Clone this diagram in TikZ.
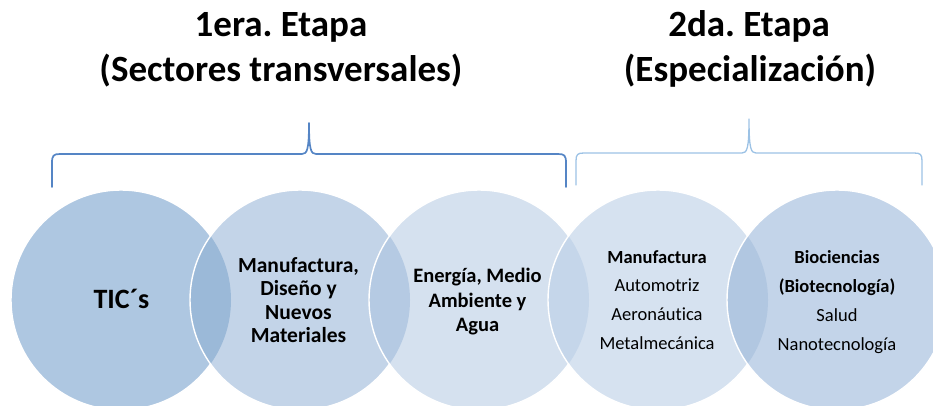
\documentclass[tikz,border=0pt]{standalone}
\usepackage{fontspec}
\setmainfont{Carlito}[Ligatures={NoCommon}]
\frenchspacing
\begin{document}
\begin{tikzpicture}[x=1pt,y=-1pt]
\definecolor{colA}{HTML}{AEC7E1}
\definecolor{colB}{HTML}{C3D4E8}
\definecolor{colC}{HTML}{D5E1EF}
\definecolor{colD}{HTML}{D6E2F0}
\definecolor{colE}{HTML}{C3D4E9}
\definecolor{ovAB}{HTML}{9BB9D8}
\definecolor{ovBC}{HTML}{B5CAE3}
\definecolor{ovCD}{HTML}{C5D6EA}
\definecolor{ovDE}{HTML}{B1C7E1}
\definecolor{braceA}{HTML}{5585C5}
\definecolor{braceB}{HTML}{9CC2E5}
\tikzset{
  ring/.style={draw=white,line width=1.4pt},
  title/.style={anchor=base,font=\fontsize{37}{45}\selectfont\bfseries,inner sep=0pt},
  bigtxt/.style={align=center,font=\fontsize{21.5}{23.3}\selectfont\bfseries,inner sep=0pt},
  midtxt/.style={align=center,font=\fontsize{20.5}{24.5}\selectfont\bfseries,inner sep=0pt},
  smalltxt/.style={align=center,font=\fontsize{18.5}{28.8}\selectfont,inner sep=0pt},
  bracestyle/.style={line width=1.7pt,line cap=round,line join=round},
}
\useasboundingbox (0,0) rectangle (933,406);
\clip (0,0) rectangle (933,406);
\def\R{110}
\coordinate (c1) at (121,300);
\coordinate (c2) at (300,300);
\coordinate (c3) at (479,300);
\coordinate (c4) at (658,300);
\coordinate (c5) at (837,300);
% circle 1
\fill[colA] (c1) circle (\R);
\draw[ring] (c1) circle (\R);
% circle 2
\fill[colB] (c2) circle (\R);
\begin{scope}\clip (c1) circle (\R); \fill[ovAB] (c2) circle (\R);\end{scope}
\draw[ring] (c2) circle (\R);
% circle 3
\fill[colC] (c3) circle (\R);
\begin{scope}\clip (c2) circle (\R); \fill[ovBC] (c3) circle (\R);\end{scope}
\draw[ring] (c3) circle (\R);
% circle 4
\fill[colD] (c4) circle (\R);
\begin{scope}\clip (c3) circle (\R); \fill[ovCD] (c4) circle (\R);\end{scope}
\draw[ring] (c4) circle (\R);
% circle 5
\fill[colE] (c5) circle (\R);
\begin{scope}\clip (c4) circle (\R); \fill[ovDE] (c5) circle (\R);\end{scope}
\draw[ring] (c5) circle (\R);
% braces
\draw[bracestyle,draw=braceA] (52,187) -- (52,163) .. controls (52,155.5) and (53.5,154) .. (60,154)
  -- (302,154) .. controls (307,154) and (309,150) .. (309,123)
  .. controls (309,150) and (311,154) .. (316,154) -- (558,154)
  .. controls (564.5,154) and (566,155.5) .. (566,163) -- (566,187);
\draw[bracestyle,line width=1.3pt,draw=braceB] (576,185) -- (576,161) .. controls (576,154.5) and (577.5,153) .. (584,153)
  -- (742,153) .. controls (747,153) and (749,149) .. (749,119)
  .. controls (749,149) and (751,153) .. (756,153) -- (914,153)
  .. controls (920.5,153) and (922,154.5) .. (922,161) -- (922,185);
% titles
\node[title] (t1a) at (281,37) {1era. Etapa};
\node[title] (t1b) at (281,82) {(Sectores transversales)};
\node[title] (t2a) at (749,37) {2da. Etapa};
\node[title] (t2b) at (750,82) {(Especialización)};
% circle texts
\node[font=\fontsize{28}{34}\selectfont\bfseries,inner sep=0pt,anchor=base] (tx1) at (121.5,308) {TIC´s};
\node[bigtxt] (tx2) at (298.5,300) {Manufactura,\\Diseño y\\Nuevos\\Materiales};
\node[midtxt] (tx3) at (477.5,302) {Energía, Medio\\Ambiente y\\Agua};
\node[smalltxt] (tx4) at (657,300) {\textbf{Manufactura}\\Automotriz\\Aeronáutica\\Metalmecánica};
\node[smalltxt] (tx5) at (837,302) {\textbf{Biociencias}\\\textbf{(Biotecnología)}\\Salud\\Nanotecnología};
\end{tikzpicture}
\end{document}
